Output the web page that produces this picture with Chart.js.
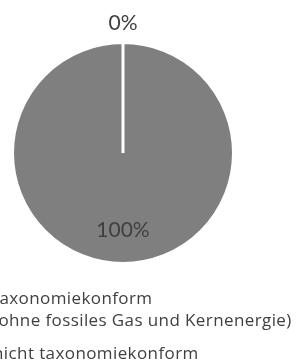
<!DOCTYPE html>
<html>
<head>
<meta charset="utf-8">
<script src="https://cdn.jsdelivr.net/npm/chart.js@4/dist/chart.umd.min.js"></script>
<style>
html,body{margin:0;padding:0;background:#fff;overflow:hidden;}
#wrap{position:relative;width:296px;height:363px;}
</style>
</head>
<body>
<div id="wrap"><canvas id="c" width="296" height="363"></canvas></div>
<script>
// Data
const categories = [
  ['taxonomiekonform', '(ohne fossiles Gas und Kernenergie)'],
  ['nicht taxonomiekonform']
];
const values = [0, 100];
const valueLabels = ['0%', '100%'];

const TEXT = '#404040';

const sliceLabels = {
  id: 'sliceLabels',
  afterDatasetsDraw(chart) {
    const ctx = chart.ctx;
    const meta = chart.getDatasetMeta(0);
    ctx.save();
    ctx.font = '21px Lato';
    ctx.fillStyle = TEXT;
    ctx.textAlign = 'center';
    ctx.textBaseline = 'alphabetic';
    meta.data.forEach((arc, i) => {
      const mid = (arc.startAngle + arc.endAngle) / 2;
      const r = arc.outerRadius;
      const dist = values[i] === 0 ? r + 12.5 : r * 0.76;
      const x = arc.x + Math.cos(mid) * dist;
      const y = arc.y + Math.sin(mid) * dist;
      ctx.fillText(valueLabels[i], x, y);
    });
    ctx.restore();
  }
};

const customLegend = {
  id: 'customLegend',
  afterDraw(chart) {
    const ctx = chart.ctx;
    ctx.save();
    ctx.font = '17px "Open Sans"';
    if ('letterSpacing' in ctx) ctx.letterSpacing = '0.4px';
    ctx.fillStyle = TEXT;
    ctx.textAlign = 'left';
    ctx.textBaseline = 'alphabetic';
    const x = -7;
    let y = 303.5;
    categories.forEach((lines, i) => {
      lines.forEach((ln, j) => {
        ctx.fillText(ln, x, y);
        if (j < lines.length - 1) y += 22.2;
      });
      y += 33.6;
    });
    ctx.restore();
  }
};

new Chart(document.getElementById('c'), {
  type: 'pie',
  data: {
    labels: categories.map(l => l.join(' ')),
    datasets: [{
      data: values,
      backgroundColor: ['#5b9bd5', '#7f7f7f'],
      borderColor: '#ffffff',
      borderWidth: 3
    }]
  },
  options: {
    responsive: false,
    devicePixelRatio: 1,
    animation: false,
    layout: { padding: { left: 11, right: 61, top: 41, bottom: 98 } },
    plugins: {
      legend: { display: false },
      tooltip: { enabled: false }
    }
  },
  plugins: [sliceLabels, customLegend]
});
</script>
</body>
</html>
